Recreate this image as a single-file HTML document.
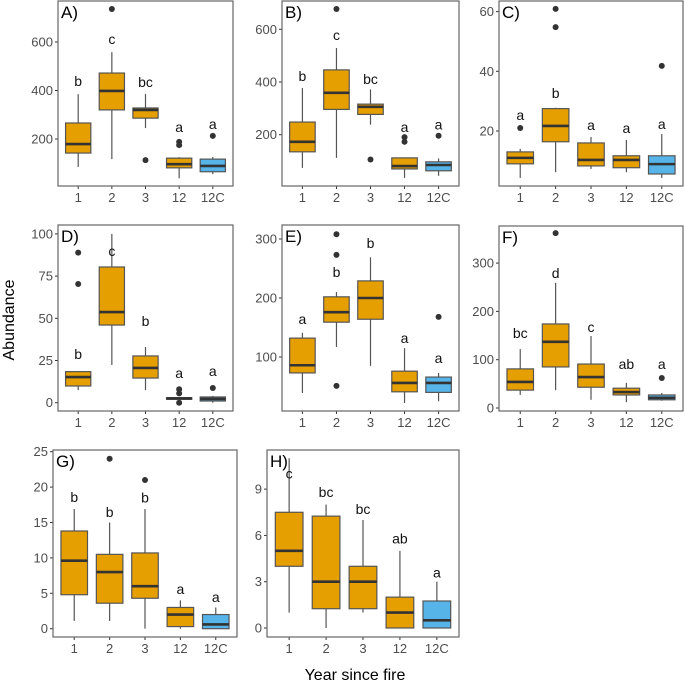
<!DOCTYPE html>
<html><head><meta charset="utf-8">
<style>
html,body{margin:0;padding:0;background:#fff;}
svg{display:block;font-family:"Liberation Sans",Arial,sans-serif;}
</style></head>
<body>
<svg id="chart" width="685" height="685" viewBox="0 0 685 685" xmlns="http://www.w3.org/2000/svg">
<text x="0" y="0" transform="translate(14,320) rotate(-90)" text-anchor="middle" font-size="16" fill="#000">Abundance</text>
<text x="355" y="680" text-anchor="middle" font-size="16" fill="#000">Year since fire</text>
</svg>
<script>
const categories = ['1','2','3','12','12C'];
const fills = ['#E69F00','#E69F00','#E69F00','#E69F00','#56B4E9'];

const A_lo=[85,117,245,38,55], A_q1=[142,320,286,81,65], A_med=[179,398,320,96,89], A_q3=[266,472,328,121,117], A_hi=[385,558,386,125,126];
const A_out=[[],[736],[113],[188,175],[213]], A_let=['b','c','bc','a','a'], A_letY=[439,612,435,249,262], A_ticks=[200,400,600];

const B_lo=[74,112,238,36,44], B_q1=[135,296,277,70,63], B_med=[173,359,306,81,85], B_q3=[248,446,316,112,97], B_hi=[377,529,372,112,110];
const B_out=[[],[677],[106],[191,173],[196]], B_let=['b','c','bc','a','a'], B_letY=[423,578,411,230,238], B_ticks=[200,400,600];

const C_lo=[4.3,6.2,7.3,6.2,4.3], C_q1=[9,16.4,8.3,7.7,5.6], C_med=[11,21.7,10.3,10.3,8.9], C_q3=[13,27.5,16,11.7,11.7], C_hi=[14,27.8,18,17,19];
const C_out=[[21],[60.9,54.8],[],[],[41.8]], C_let=['a','b','a','a','a'], C_letY=[25.4,32.8,22,21,22.3], C_ticks=[20,40,60];

const D_lo=[7.5,22.3,7.5,2,0], D_q1=[9.9,46,14.6,2,1], D_med=[15.2,53.7,20.6,2.5,2.2], D_q3=[18.4,80.4,27.7,3,3.4], D_hi=[18.8,100,33,3,4];
const D_out=[[88.9,70.3],[],[],[0,5.5,8],[8.7]], D_let=['b','c','b','a','a'], D_letY=[28.8,89.9,48.4,17.6,18.7], D_ticks=[0,25,50,75,100];

const E_lo=[39,117,85,22,25], E_q1=[73,159,164,41,40], E_med=[86,176,200,56,56], E_q3=[132,202,229,76,66], E_hi=[141,210,269,115,73];
const E_out=[[],[308,273,51],[],[],[168]], E_let=['a','b','b','a','a'], E_letY=[164,244,293,132,98], E_ticks=[100,200,300];

const F_lo=[27,37,17,12,15], F_q1=[37,85,43,27,17], F_med=[54,137,64,33,21], F_q3=[81,174,91,41,27], F_hi=[122,259,149,52,31];
const F_out=[[],[362],[],[],[62]], F_let=['bc','d','c','ab','a'], F_letY=[155,279,168,91,91], F_ticks=[0,100,200,300];

const G_lo=[1.1,1.1,0,0,0], G_q1=[4.8,3.6,4.3,0.3,0], G_med=[9.6,8,6,2,0.6], G_q3=[13.8,10.5,10.7,3,2], G_hi=[16.9,15,16.9,4,3];
const G_out=[[],[24],[21],[],[]], G_let=['b','b','b','a','a'], G_letY=[18.6,16.5,18.5,5.6,4.5], G_ticks=[0,5,10,15,20,25];

const H_lo=[1,0,1,0,0], H_q1=[4,1.25,1.25,0,0], H_med=[5,3,3,1,0.5], H_q3=[7.5,7.25,4,2,1.75], H_hi=[11,8,7,5,3];
const H_out=[[],[],[],[],[]], H_let=['c','bc','bc','ab','a'], H_letY=[10,8.8,7.7,5.8,3.6], H_ticks=[0,3,6,9];

const panels=[
 {id:'A',lo:A_lo,q1:A_q1,med:A_med,q3:A_q3,hi:A_hi,out:A_out,let:A_let,letY:A_letY,ticks:A_ticks,x0:58,x1:233,y0:1,y1:186,zero:187.5,ppu:0.2425},
 {id:'B',lo:B_lo,q1:B_q1,med:B_med,q3:B_q3,hi:B_hi,out:B_out,let:B_let,letY:B_letY,ticks:B_ticks,x0:282,x1:459,y0:1,y1:186,zero:187.4,ppu:0.2635},
 {id:'C',lo:C_lo,q1:C_q1,med:C_med,q3:C_q3,hi:C_hi,out:C_out,let:C_let,letY:C_letY,ticks:C_ticks,x0:499,x1:683,y0:1,y1:186,zero:190.7,ppu:2.985},
 {id:'D',lo:D_lo,q1:D_q1,med:D_med,q3:D_q3,hi:D_hi,out:D_out,let:D_let,letY:D_letY,ticks:D_ticks,x0:58,x1:233,y0:225,y1:411,zero:402.7,ppu:1.688},
 {id:'E',lo:E_lo,q1:E_q1,med:E_med,q3:E_q3,hi:E_hi,out:E_out,let:E_let,letY:E_letY,ticks:E_ticks,x0:282,x1:459,y0:225,y1:411,zero:416,ppu:0.59},
 {id:'F',lo:F_lo,q1:F_q1,med:F_med,q3:F_q3,hi:F_hi,out:F_out,let:F_let,letY:F_letY,ticks:F_ticks,x0:499,x1:683,y0:226,y1:411,zero:408,ppu:0.483},
 {id:'G',lo:G_lo,q1:G_q1,med:G_med,q3:G_q3,hi:G_hi,out:G_out,let:G_let,letY:G_letY,ticks:G_ticks,x0:53,x1:237,y0:450,y1:637,zero:628.7,ppu:7.08},
 {id:'H',lo:H_lo,q1:H_q1,med:H_med,q3:H_q3,hi:H_hi,out:H_out,let:H_let,letY:H_letY,ticks:H_ticks,x0:267,x1:459,y0:450,y1:637,zero:628,ppu:15.43}
];

const svg=document.getElementById('chart');
const NS='http://www.w3.org/2000/svg';
function mk(tag,attrs,parent){const e=document.createElementNS(NS,tag);for(const k in attrs)e.setAttribute(k,attrs[k]);parent.appendChild(e);return e;}

panels.forEach(p=>{
  const g=mk('g',{},svg);
  
  
  const unit=(p.x1-p.x0)/5.2;
  const xs=i=>p.x0+(i+0.6)*unit;
  const ys=v=>p.zero-v*p.ppu;
  const bw=unit*0.75;
  p.ticks.forEach(t=>{
    const y=ys(t);
    const tk=mk('line',{x1:p.x0-3,x2:p.x0,y1:y,y2:y,stroke:'#333','stroke-width':1},g);
    
    
    const tl=mk('text',{x:p.x0-5,y:y+4.5,'text-anchor':'end','font-size':13,fill:'#4d4d4d'},g);
    tl.textContent=t;
    
    
  });
  categories.forEach((c,i)=>{
    const x=xs(i);
    const tk=mk('line',{x1:x,x2:x,y1:p.y1,y2:p.y1+3,stroke:'#333','stroke-width':1},g);
    
    
    const tl=mk('text',{x:x,y:p.y1+16,'text-anchor':'middle','font-size':13,fill:'#4d4d4d'},g);
    tl.textContent=c;
    
    
    const w=mk('line',{x1:x,x2:x,y1:ys(p.hi[i]),y2:ys(p.lo[i]),stroke:'#555','stroke-width':1.2},g);
    
    
    const b=mk('rect',{x:x-bw/2,y:ys(p.q3[i]),width:bw,height:Math.max(ys(p.q1[i])-ys(p.q3[i]),0.5),fill:fills[i],stroke:'#555','stroke-width':1.2},g);
    
    
    const m=mk('line',{x1:x-bw/2,x2:x+bw/2,y1:ys(p.med[i]),y2:ys(p.med[i]),stroke:'#333','stroke-width':2.6},g);
    
    
    p.out[i].forEach(o=>{
      const d=mk('circle',{cx:x,cy:ys(o),r:3,fill:'#333'},g);
      
      
    });
    const lt=mk('text',{x:x,y:ys(p.letY[i])+5,'text-anchor':'middle','font-size':14,fill:'#111'},g);
    lt.textContent=p.let[i];
    
    
  });
  const fr=mk('rect',{x:p.x0,y:p.y0,width:p.x1-p.x0,height:p.y1-p.y0,fill:'none',stroke:'#666','stroke-width':1.2},g);
  
  
  const lab=mk('text',{x:p.x0+3,y:p.y0+17,'font-size':17,fill:'#000'},g);
  lab.textContent=p.id+')';
  
  
});
</script>
</body></html>
